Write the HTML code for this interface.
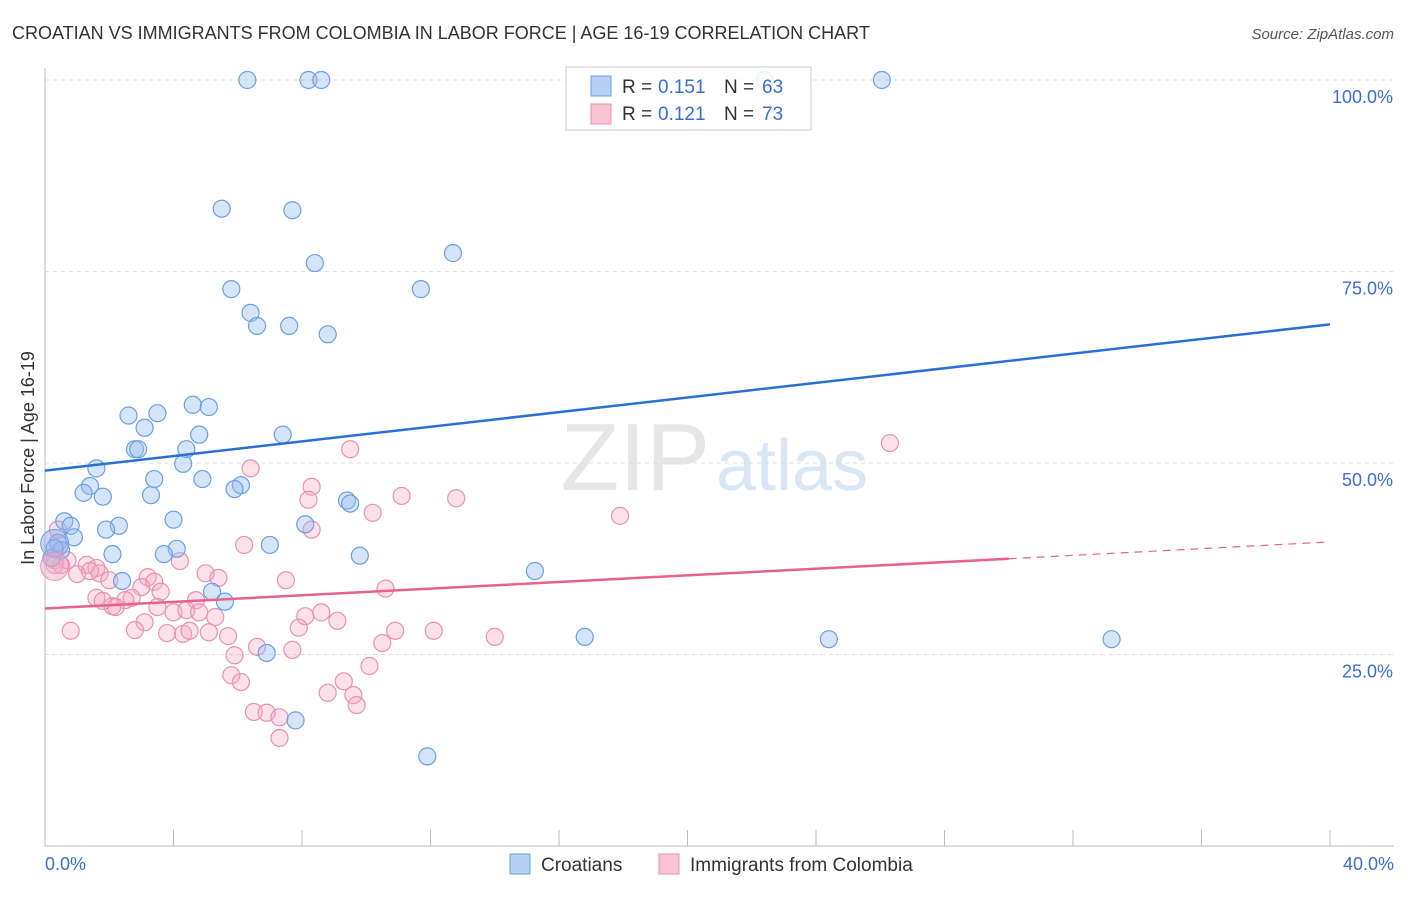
<!DOCTYPE html>
<html><head><meta charset="utf-8"><style>
body{margin:0;background:#fff;font-family:"Liberation Sans",sans-serif}
svg text{font-family:"Liberation Sans",sans-serif}
</style></head><body>
<svg id="c" width="1406" height="892">
<text x="12" y="39" font-size="18" fill="#333">CROATIAN VS IMMIGRANTS FROM COLOMBIA IN LABOR FORCE | AGE 16-19 CORRELATION CHART</text>
<text x="1394" y="39" font-size="15" fill="#555" font-style="italic" text-anchor="end">Source: ZipAtlas.com</text>
<text x="710" y="490" font-size="96" fill="#e6e6e6" text-anchor="end" font-family="Liberation Serif">ZIP</text>
<text x="716" y="490" font-size="72" fill="#d8e6f6">atlas</text>
<g id="grid"></g><g id="pts"></g><g id="lines"></g>
<text transform="translate(34,458) rotate(-90)" font-size="18" fill="#333" text-anchor="middle">In Labor Force | Age 16-19</text>
<text x="45" y="870" font-size="18" fill="#3a6fd0">0.0%</text>
<text x="1394" y="870" font-size="18" fill="#3a6fd0" text-anchor="end">40.0%</text>
<g>
<rect x="566" y="67" width="245" height="63" fill="rgba(255,255,255,0.85)" stroke="#ccc"/>
<rect x="591" y="76" width="20" height="20" fill="#b5d0f3" stroke="#6a9fe0"/>
<rect x="591" y="104" width="20" height="20" fill="#f8c4d4" stroke="#e890b0"/>
<text y="93" font-size="19" fill="#333"><tspan x="622">R =</tspan><tspan x="658" fill="#3a6fd0">0.151</tspan><tspan x="724">N =</tspan><tspan x="762" fill="#3a6fd0">63</tspan></text>
<text y="120" font-size="19" fill="#333"><tspan x="622">R =</tspan><tspan x="658" fill="#3a6fd0">0.121</tspan><tspan x="724">N =</tspan><tspan x="762" fill="#3a6fd0">73</tspan></text>
</g>
<g>
<rect x="510" y="854" width="20" height="20" fill="#b5d0f3" stroke="#6a9fe0"/>
<text x="541" y="871" font-size="19" fill="#333">Croatians</text>
<rect x="659" y="854" width="20" height="20" fill="#f8c4d4" stroke="#e890b0"/>
<text x="690" y="871" font-size="19" fill="#333">Immigrants from Colombia</text>
</g>
</svg>
<script>
const yTicks=[25,50,75,100];
const xTicks=[0,4,8,12,16,20,24,28,32,36,40];
const blueX=[6.3,8.2,8.6,26.05,22.4,5.5,7.7,12.7,8.4,11.7,5.8,6.4,6.6,7.6,8.8,2.6,3.5,4.6,5.1,3.1,2.8,2.9,7.4,4.8,4.4,1.6,4.3,3.4,4.9,1.4,1.2,1.8,3.3,6.1,5.9,9.4,9.5,0.6,0.8,2.3,1.9,0.9,4.0,8.1,0.4,0.5,2.1,4.1,7.0,0.2,3.7,9.8,15.25,2.4,5.2,5.6,16.8,24.4,33.2,6.9,7.8,11.9,0.3];
const blueY=[100,100,100,100,100,83.2,83.0,77.4,76.1,72.7,72.7,69.6,67.9,67.9,66.8,56.2,56.5,57.6,57.3,54.6,51.8,51.8,53.7,53.7,51.8,49.3,49.9,47.9,47.9,47.0,46.1,45.6,45.8,47.1,46.6,45.1,44.7,42.4,41.8,41.8,41.3,40.3,42.6,42.0,39.6,38.6,38.1,38.8,39.3,37.6,38.1,37.9,35.9,34.6,33.2,31.9,27.3,27.0,27.0,25.2,16.4,11.7,38.9];
const pinkX=[26.3,9.5,6.4,8.3,8.2,11.1,12.8,10.2,17.9,8.3,6.2,0.4,0.3,0.5,0.7,1.3,1.6,1.0,1.7,1.4,4.2,3.2,5.0,5.4,7.5,3.4,3.0,10.6,1.6,2.7,2.5,2.1,2.2,1.8,3.6,4.7,3.5,4.0,4.4,4.8,5.3,8.1,8.6,9.1,3.1,0.8,2.8,3.8,4.3,4.5,5.1,5.7,7.9,10.9,12.1,14.0,10.5,6.6,7.7,5.9,10.1,5.8,6.1,9.3,8.8,9.6,9.7,6.5,6.9,7.3,7.3,2.0,0.3];
const pinkY=[52.6,51.8,49.3,46.9,45.2,45.7,45.4,43.5,43.1,41.3,39.3,41.3,37.3,36.7,37.3,36.7,36.3,35.5,35.6,35.9,37.2,35.1,35.6,35.0,34.7,34.5,33.8,33.6,32.4,32.4,32.1,31.3,31.2,32.0,33.2,32.1,31.2,30.5,30.8,30.5,29.9,30.0,30.5,29.4,29.2,28.1,28.2,27.8,27.7,28.1,27.9,27.4,28.5,28.1,28.1,27.3,26.5,26.0,25.6,24.9,23.5,22.3,21.4,21.5,20.0,19.7,18.4,17.5,17.4,16.8,14.1,34.7,36.7];
const blueLine=[0,49.0,40,68.1];
const pinkLine=[0,31.0,30,37.5,40,39.7];
const X=v=>45+v/40*1285, Y=v=>846-v/100*766;
const NS="http://www.w3.org/2000/svg";
function mk(t,a,p){const e=document.createElementNS(NS,t);for(const k in a)e.setAttribute(k,a[k]);p.appendChild(e);return e;}
const g=document.getElementById('grid');
let ax=mk('line',{x1:45,y1:68,x2:45,y2:846,stroke:'#bbb'},g);


let bx=mk('line',{x1:45,y1:846,x2:1394,y2:846,stroke:'#bbb'},g);


yTicks.forEach(v=>{
 const l=mk('line',{x1:45,y1:Y(v),x2:1394,y2:Y(v),stroke:'#ddd','stroke-dasharray':'4,4'},g);
 
 
 const t=mk('text',{x:1393,y:Y(v)+23,'font-size':18,fill:'#3a6fd0','text-anchor':'end'},g);
 t.textContent=v.toFixed(1)+'%';
 
 
});
xTicks.forEach(v=>{
 const l=mk('line',{x1:X(v),y1:830,x2:X(v),y2:846,stroke:'#bbb'},g);
 
 
});
const P=document.getElementById('pts');
pinkX.forEach((x,i)=>{const c=mk('circle',{cx:X(x),cy:Y(pinkY[i]),r:8.5,fill:'rgba(245,170,195,0.35)',stroke:'#e890b0','stroke-width':1.2},P);
 
 });
blueX.forEach((x,i)=>{const c=mk('circle',{cx:X(x),cy:Y(blueY[i]),r:8.5,fill:'rgba(150,190,240,0.4)',stroke:'#6a9fe0','stroke-width':1.2},P);
 
 });
let big=mk('circle',{cx:X(0.3),cy:Y(39.5),r:14,fill:'rgba(150,170,230,0.5)',stroke:'#6a9fe0'},P);


let big2=mk('circle',{cx:X(0.3),cy:Y(36.5),r:14,fill:'rgba(240,170,200,0.5)',stroke:'#e890b0'},P);


const L=document.getElementById('lines');
let bl=mk('line',{x1:X(blueLine[0]),y1:Y(blueLine[1]),x2:X(blueLine[2]),y2:Y(blueLine[3]),stroke:'#2a6fd6','stroke-width':2.5},L);


let pl=mk('line',{x1:X(pinkLine[0]),y1:Y(pinkLine[1]),x2:X(pinkLine[2]),y2:Y(pinkLine[3]),stroke:'#e8608c','stroke-width':2.5},L);


let pd=mk('line',{x1:X(pinkLine[2]),y1:Y(pinkLine[3]),x2:X(pinkLine[4]),y2:Y(pinkLine[5]),stroke:'#e8608c','stroke-width':1.2,'stroke-dasharray':'8,6'},L);


</script>
</body></html>
